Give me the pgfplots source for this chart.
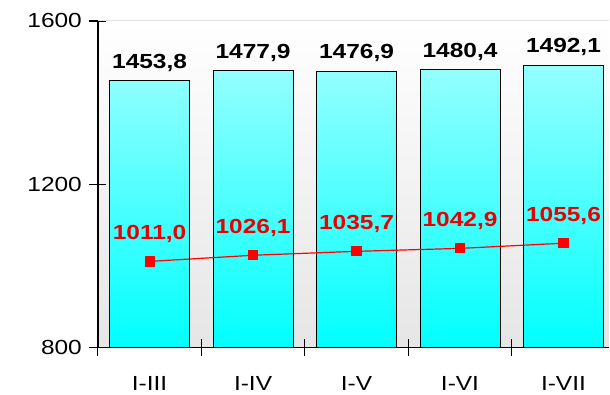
\documentclass[border=0pt]{standalone}
\usepackage{fontspec}
\setmainfont{Liberation Sans}[FakeStretch=1.2]
\usepackage{pgfplots}
\pgfplotsset{compat=1.18}
\definecolor{cyantop}{RGB}{150,255,255}
\definecolor{cyanbot}{RGB}{0,255,255}
\definecolor{lblred}{RGB}{235,0,0}
\begin{document}
\begin{tikzpicture}
\begin{axis}[
  name=ax,
  scale only axis,
  width=512bp, height=327bp,
  xmin=-0.5, xmax=4.442,
  ymin=800, ymax=1600,
  ytick={800,1200,1600},
  yticklabels={800,1200,1600},
  xtick={-0.5,0.5,1.5,2.5,3.5},
  xticklabels={I-III,I-IV,I-V,I-VI,I-VII},
  xticklabel style={xshift=51.8bp, anchor=north, yshift=-17bp},
  yticklabel style={anchor=east, xshift=-4bp},
  tick align=center,
  major tick length=17bp,
  tick style={black, line width=1.2bp},
  axis lines*=left,
  axis line style={black, line width=1.6bp, -},
  axis background/.style={top color=white, bottom color=black!10},
  /pgf/number format/assume math mode=true,
  /pgf/number format/.cd, fixed, fixed zerofill, precision=1, use comma, 1000 sep={},
  /pgfplots/.cd,
  tick label style={font=\fontsize{20.5}{24}\selectfont},
  clip=false,
]
\draw[black!12, line width=1bp] (rel axis cs:0,1) -- (rel axis cs:1,1);
\addplot[ybar, bar width=80bp, draw=black, line width=0.8bp,
  top color=cyantop, bottom color=cyanbot,
  nodes near coords,
  every node near coord/.append style={font=\fontsize{20.5}{24}\selectfont\bfseries, black, anchor=south, inner sep=0pt, yshift=9bp}]
  coordinates {(0,1453.8) (1,1477.9) (2,1476.9) (3,1480.4) (4,1492.1)};
\addplot[color=red, line width=1.2bp, mark=square*, mark size=4.5bp,
  mark options={fill=red, draw=red},
  nodes near coords,
  every node near coord/.append style={font=\fontsize{20.5}{24}\selectfont\bfseries, lblred, anchor=south, inner sep=0pt, yshift=18bp}]
  coordinates {(0,1011.0) (1,1026.1) (2,1035.7) (3,1042.9) (4,1055.6)};
\end{axis}
\path[use as bounding box] ([xshift=-98bp,yshift=-47bp]ax.south west) rectangle ([yshift=21bp]ax.north east);
\end{tikzpicture}
\end{document}
